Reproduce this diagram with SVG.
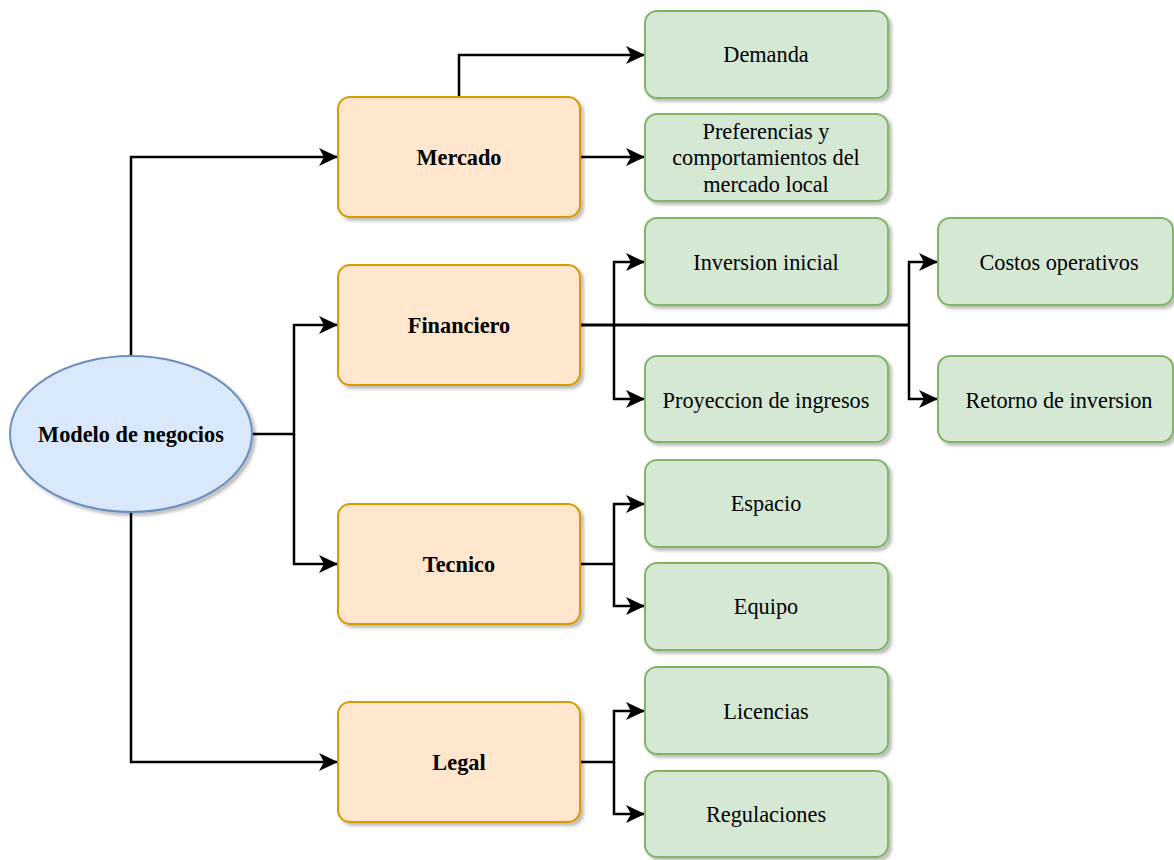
<svg xmlns="http://www.w3.org/2000/svg" width="1174" height="860" viewBox="0 0 1174 860">
  <style>
    .lbl { font-family: 'Liberation Serif', 'DejaVu Serif', 'Times New Roman', serif; font-size: 22.3px; fill: #000; text-anchor: middle; dominant-baseline: central; }
    .bold { font-weight: bold; }
    .root { fill: #dae8fc; stroke: #6c8ebf; stroke-width: 2; }
    .area { fill: #ffe6cc; stroke: #d79b00; stroke-width: 2; }
    .item { fill: #d5e8d4; stroke: #82b366; stroke-width: 2; }
    .edge { fill: none; stroke: #000; stroke-width: 2.5; }
    .trunk { stroke-width: 3; }
  </style>
  <defs>
    <filter id="shadow" x="-10%" y="-10%" width="130%" height="140%">
      <feDropShadow dx="3" dy="3" stdDeviation="1.5" flood-color="#000" flood-opacity="0.25"/>
    </filter>
    <marker id="arrow" markerUnits="userSpaceOnUse" markerWidth="22" markerHeight="20" refX="18" refY="9" orient="auto">
      <path d="M0,0 L19,9 L0,18 L5,9 Z" fill="#000"/>
    </marker>
  </defs>

  <rect width="1174" height="860" fill="#fff"/>

  <!-- connectors -->
  <g id="connectors">
    <path class="edge" d="M131,356 V157 H337" marker-end="url(#arrow)"/>
    <path class="edge" d="M131,512 V762 H337" marker-end="url(#arrow)"/>
    <path class="edge" d="M252,434 H294 V325 H337" marker-end="url(#arrow)"/>
    <path class="edge" d="M294,434 V564 H337" marker-end="url(#arrow)"/>

    <path class="edge" d="M459,97 V55 H644" marker-end="url(#arrow)"/>
    <path class="edge" d="M580,157 H644" marker-end="url(#arrow)"/>

    <path class="edge trunk" d="M580,325 H909"/>
    <path class="edge" d="M614,325 V262 H644" marker-end="url(#arrow)"/>
    <path class="edge" d="M614,325 V399 H644" marker-end="url(#arrow)"/>
    <path class="edge" d="M909,325 V262 H937" marker-end="url(#arrow)"/>
    <path class="edge" d="M909,325 V399 H937" marker-end="url(#arrow)"/>

    <path class="edge" d="M580,564 H614 V504 H644" marker-end="url(#arrow)"/>
    <path class="edge" d="M614,564 V606 H644" marker-end="url(#arrow)"/>

    <path class="edge" d="M580,762 H614 V711 H644" marker-end="url(#arrow)"/>
    <path class="edge" d="M614,762 V814 H644" marker-end="url(#arrow)"/>
  </g>

  <!-- root -->
  <g id="modelo">
    <ellipse class="root" cx="131" cy="434" rx="121" ry="78" filter="url(#shadow)"/>
    <text class="lbl bold" x="131" y="434">Modelo de negocios</text>
  </g>

  <!-- areas -->
  <g id="mercado">
    <rect class="area" x="338" y="97" width="242" height="120" rx="12" filter="url(#shadow)"/>
    <text class="lbl bold" x="459" y="157">Mercado</text>
  </g>
  <g id="financiero">
    <rect class="area" x="338" y="265" width="242" height="120" rx="12" filter="url(#shadow)"/>
    <text class="lbl bold" x="459" y="325">Financiero</text>
  </g>
  <g id="tecnico">
    <rect class="area" x="338" y="504" width="242" height="120" rx="12" filter="url(#shadow)"/>
    <text class="lbl bold" x="459" y="564">Tecnico</text>
  </g>
  <g id="legal">
    <rect class="area" x="338" y="702" width="242" height="120" rx="12" filter="url(#shadow)"/>
    <text class="lbl bold" x="459" y="762">Legal</text>
  </g>

  <!-- items -->
  <g id="demanda">
    <rect class="item" x="645" y="11" width="243" height="87" rx="12" filter="url(#shadow)"/>
    <text class="lbl" x="766" y="54">Demanda</text>
  </g>
  <g id="preferencias">
    <rect class="item" x="645" y="114" width="243" height="87" rx="12" filter="url(#shadow)"/>
    <text class="lbl" x="766" y="131">Preferencias y</text>
    <text class="lbl" x="766" y="157">comportamientos del</text>
    <text class="lbl" x="766" y="184">mercado local</text>
  </g>
  <g id="inversion">
    <rect class="item" x="645" y="218" width="243" height="87" rx="12" filter="url(#shadow)"/>
    <text class="lbl" x="766" y="262">Inversion inicial</text>
  </g>
  <g id="proyeccion">
    <rect class="item" x="645" y="356" width="243" height="86" rx="12" filter="url(#shadow)"/>
    <text class="lbl" x="766" y="400">Proyeccion de ingresos</text>
  </g>
  <g id="costos">
    <rect class="item" x="938" y="218" width="235" height="87" rx="12" filter="url(#shadow)"/>
    <text class="lbl" x="1059" y="262">Costos operativos</text>
  </g>
  <g id="retorno">
    <rect class="item" x="938" y="356" width="235" height="86" rx="12" filter="url(#shadow)"/>
    <text class="lbl" x="1059" y="400">Retorno de inversion</text>
  </g>
  <g id="espacio">
    <rect class="item" x="645" y="460" width="243" height="87" rx="12" filter="url(#shadow)"/>
    <text class="lbl" x="766" y="503">Espacio</text>
  </g>
  <g id="equipo">
    <rect class="item" x="645" y="563" width="243" height="87" rx="12" filter="url(#shadow)"/>
    <text class="lbl" x="766" y="606">Equipo</text>
  </g>
  <g id="licencias">
    <rect class="item" x="645" y="667" width="243" height="87" rx="12" filter="url(#shadow)"/>
    <text class="lbl" x="766" y="711">Licencias</text>
  </g>
  <g id="regulaciones">
    <rect class="item" x="645" y="771" width="243" height="86" rx="12" filter="url(#shadow)"/>
    <text class="lbl" x="766" y="814">Regulaciones</text>
  </g>
</svg>
